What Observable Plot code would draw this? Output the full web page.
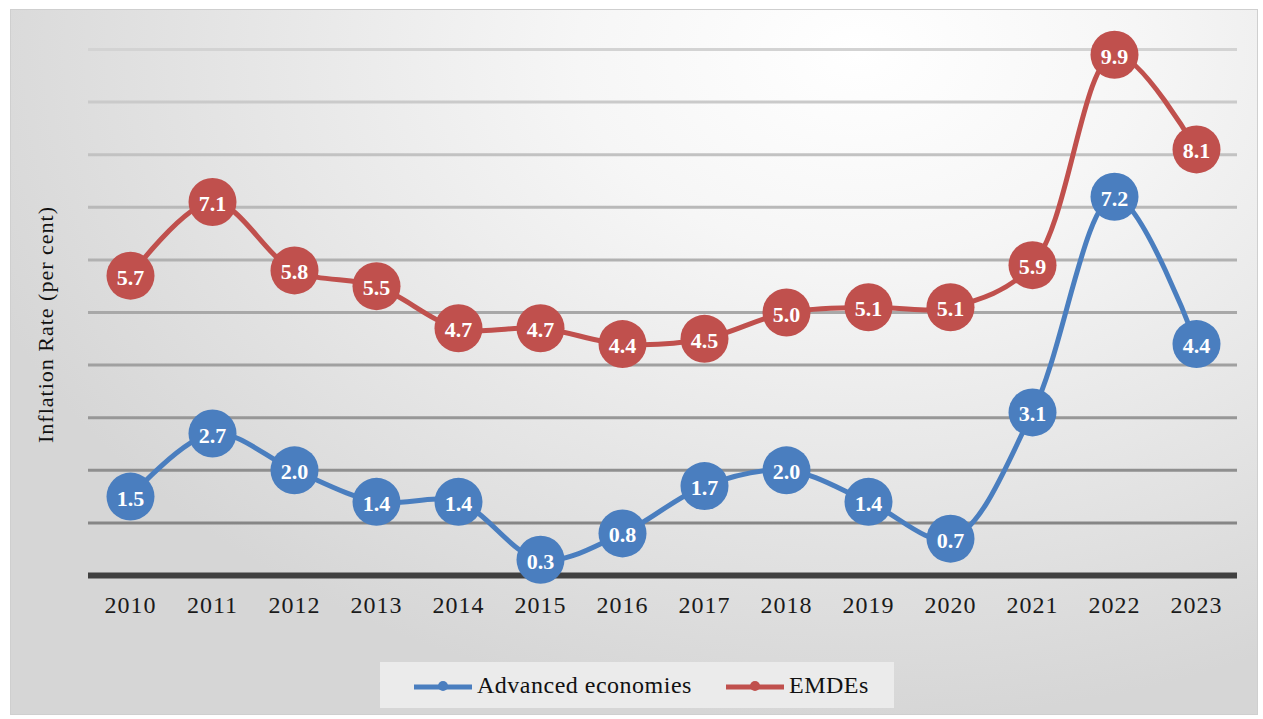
<!DOCTYPE html>
<html>
<head>
<meta charset="utf-8">
<script src="https://cdn.jsdelivr.net/npm/d3@7"></script>
<script src="https://cdn.jsdelivr.net/npm/@observablehq/plot@0.6"></script>
<style>
  body { margin: 0; background: #ffffff; }
  #wrap {
    position: absolute; left: 10px; top: 9px; width: 1246px; height: 704px;
    border: 1px solid #cfcfcf;
    background: radial-gradient(ellipse 75% 95% at 68% 6%, #ffffff 0%, #f6f6f6 30%, #e6e6e6 65%, #d6d6d6 100%);
    font-family: "Liberation Serif", "Times New Roman", serif;
    overflow: hidden;
  }
  #chart { position: absolute; left: 0; top: 0; }
  #legend {
    position: absolute; left: 369px; top: 652px; width: 514px; height: 46px;
    background: #ebebeb; color: #111;
    font-size: 24px; letter-spacing: 0.5px;
  }
  .item { position: absolute; top: 0; height: 46px; display: flex; align-items: center; }
  .item svg { display: block; margin-right: 4px; }
</style>
</head>
<body>
<div id="wrap">
  <div id="chart"></div>
  <div id="legend"></div>
</div>
<script>
const years = ["2010","2011","2012","2013","2014","2015","2016","2017","2018","2019","2020","2021","2022","2023"];
const advanced = [1.5, 2.7, 2.0, 1.4, 1.4, 0.3, 0.8, 1.7, 2.0, 1.4, 0.7, 3.1, 7.2, 4.4];
const emdes = [5.7, 7.1, 5.8, 5.5, 4.7, 4.7, 4.4, 4.5, 5.0, 5.1, 5.1, 5.9, 9.9, 8.1];
const seriesNames = ["Advanced economies", "EMDEs"];
const seriesColors = ["#4a7ebf", "#c0504d"];
const gridValues = [1, 2, 3, 4, 5, 6, 7, 8, 9, 10];
const yLabel = "Inflation Rate (per cent)";

const advRows = years.map((y, i) => ({year: y, value: advanced[i]}));
const emRows = years.map((y, i) => ({year: y, value: emdes[i]}));
const serif = "Liberation Serif, Times New Roman, serif";
const gridColor = d3.interpolateRgb("#868686", "#d3d3d3");

function seriesMarks(rows, color) {
  return [
    Plot.line(rows, {x: "year", y: "value", stroke: color, strokeWidth: 5, curve: "catmull-rom"}),
    Plot.dot(rows, {x: "year", y: "value", r: 24, fill: color, stroke: "none"}),
    Plot.text(rows, {x: "year", y: "value", text: d => d.value.toFixed(1), fill: "white",
      fontWeight: "bold", fontSize: 22, fontFamily: serif, dy: 2})
  ];
}

const chart = Plot.plot({
  width: 1246,
  height: 640,
  marginLeft: 77,
  marginRight: 20,
  marginTop: 39,
  marginBottom: 75,
  style: {background: "transparent", fontFamily: serif, fontSize: "24px", color: "#1a1a1a", overflow: "visible"},
  x: {type: "point", domain: years, padding: 0.5},
  y: {domain: [0, 10]},
  marks: [
    ...gridValues.map(v => Plot.ruleY([v], {stroke: gridColor((v - 1) / 9), strokeWidth: 3})),
    Plot.ruleY([0], {stroke: "#404040", strokeWidth: 6}),
    Plot.axisX({tickSize: 0, tickPadding: 20, label: null, fontSize: 24, fill: "#1a1a1a"}),
    Plot.axisY({ticks: [], label: null}),
    ...seriesMarks(advRows, seriesColors[0]),
    ...seriesMarks(emRows, seriesColors[1]),
    Plot.text([yLabel], {frameAnchor: "left", dx: -43, dy: 12, rotate: -90, textAnchor: "middle",
      fontSize: 22, fill: "#111", fontFamily: serif})
  ]
});
document.getElementById("chart").appendChild(chart);
d3.select(chart).selectAll("g[aria-label='x-axis tick label'] text").style("letter-spacing", "1px");
d3.select(chart).selectAll("text").filter(function() { return this.textContent === yLabel; }).style("letter-spacing", "1px");

// legend
const legend = d3.select("#legend");
const lefts = [33, 345];
seriesNames.forEach((name, i) => {
  const item = legend.append("div").attr("class", "item").style("left", lefts[i] + "px");
  const s = item.append("svg").attr("width", 60).attr("height", 20);
  s.append("line").attr("x1", 1).attr("x2", 59).attr("y1", 12).attr("y2", 12)
    .attr("stroke", seriesColors[i]).attr("stroke-width", 5);
  s.append("circle").attr("cx", 30).attr("cy", 11).attr("r", 5).attr("fill", seriesColors[i]);
  item.append("span").text(name);
});
</script>
</body>
</html>
